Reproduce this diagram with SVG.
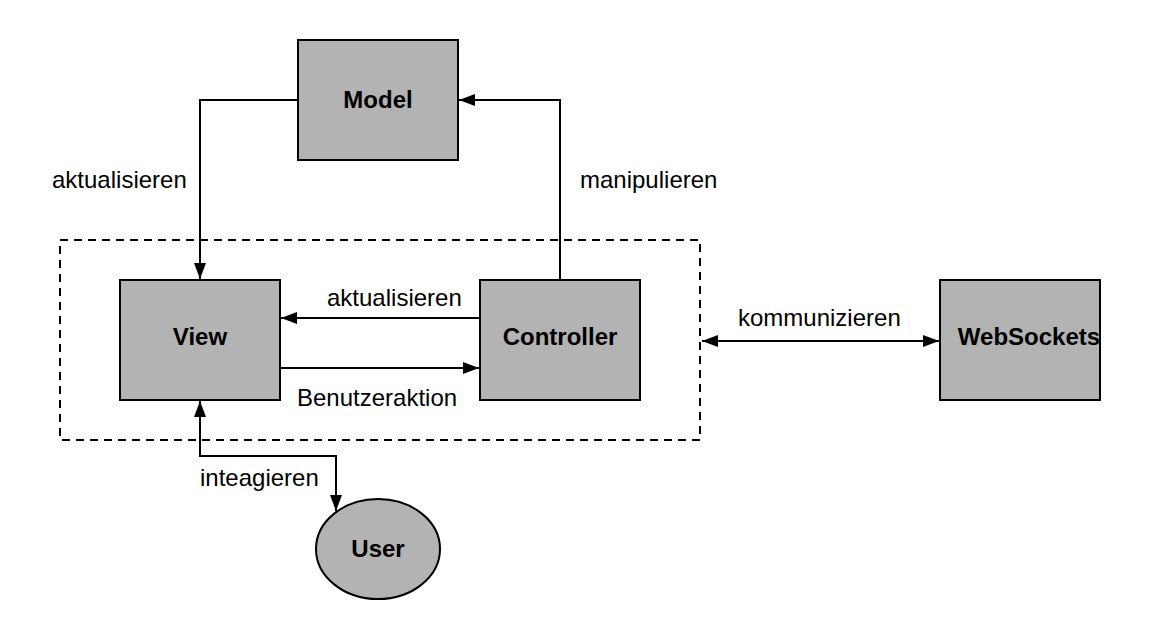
<svg xmlns="http://www.w3.org/2000/svg" width="1160" height="640" viewBox="0 0 1160 640">
<style>
.box{fill:#b3b3b3;stroke:#000;stroke-width:2}
.lbl{font-family:"Liberation Sans",Arial,sans-serif;font-size:24px;font-weight:bold;text-anchor:middle;fill:#000}
.txt{font-family:"Liberation Sans",Arial,sans-serif;font-size:24px;fill:#000}
.ln{fill:none;stroke:#000;stroke-width:2}
</style>
<defs>
<marker id="ah" viewBox="0 0 16 12" refX="16" refY="6" markerWidth="16" markerHeight="12" markerUnits="userSpaceOnUse" orient="auto-start-reverse">
<path d="M0,0 L16,6 L0,12 Z" fill="#000"/>
</marker>
</defs>
<rect width="1160" height="640" fill="#fff"/>
<g id="container">
<rect x="60" y="240" width="640" height="200" fill="none" stroke="#000" stroke-width="2" stroke-dasharray="8 6"/>
</g>
<g id="connectors">
<path class="ln" d="M298,100 H200 V279" marker-end="url(#ah)"/>
<path class="ln" d="M560,280 V100 H459" marker-end="url(#ah)"/>
<path class="ln" d="M480,318 H281" marker-end="url(#ah)"/>
<path class="ln" d="M280,368 H479" marker-end="url(#ah)"/>
<path class="ln" d="M702,341 H939" marker-start="url(#ah)" marker-end="url(#ah)"/>
<path class="ln" d="M200,401 V456 H336 V511" marker-start="url(#ah)" marker-end="url(#ah)"/>
<text class="txt" x="52" y="188">aktualisieren</text>
<text class="txt" x="580" y="188">manipulieren</text>
<text class="txt" x="327" y="306">aktualisieren</text>
<text class="txt" x="297" y="406">Benutzeraktion</text>
<text class="txt" x="738" y="326">kommunizieren</text>
<text class="txt" x="200" y="486">inteagieren</text>
</g>
<g id="model">
<rect class="box" x="298" y="40" width="160" height="120"/>
<text class="lbl" x="378" y="108">Model</text>
</g>
<g id="view">
<rect class="box" x="120" y="280" width="160" height="120"/>
<text class="lbl" x="200" y="345">View</text>
</g>
<g id="controller">
<rect class="box" x="480" y="280" width="160" height="120"/>
<text class="lbl" x="560" y="345">Controller</text>
</g>
<g id="websockets">
<rect class="box" x="940" y="280" width="160" height="120"/>
<text class="lbl" x="1029" y="345">WebSockets</text>
</g>
<g id="user">
<ellipse class="box" cx="378" cy="549" rx="62" ry="50"/>
<text class="lbl" x="378" y="557">User</text>
</g>
</svg>
